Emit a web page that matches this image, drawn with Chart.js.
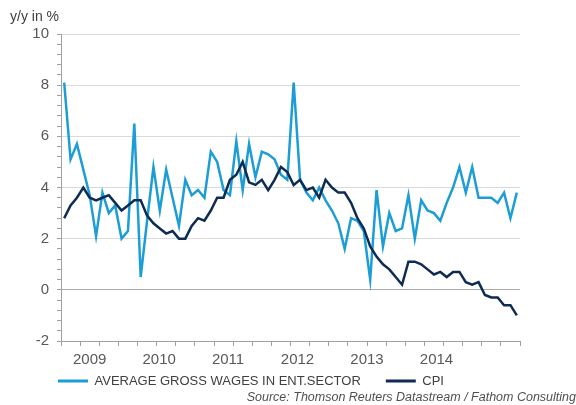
<!DOCTYPE html>
<html>
<head>
<meta charset="utf-8">
<script src="https://cdn.jsdelivr.net/npm/chart.js@4.4.1/dist/chart.umd.min.js"></script>
<style>
  html, body { margin:0; padding:0; background:#fff; overflow:hidden; }
</style>
</head>
<body>
<canvas id="c" width="576" height="405"></canvas>
<script>
/* ── data: y/y % change, monthly Jan 2009 – Dec 2014 ── */
const years  = ['2009','2010','2011','2012','2013','2014'];
const monthNames = ['Jan','Feb','Mar','Apr','May','Jun','Jul','Aug','Sep','Oct','Nov','Dec'];
const months = years.flatMap(y => monthNames.map(m => m + ' ' + y));

const wages = [
  8.1, 5.1, 5.7, 4.7, 3.7, 2.1, 3.8, 3.0, 3.3, 2.0, 2.3, 6.5,
  0.5, 2.7, 4.8, 3.1, 4.7, 3.6, 2.5, 4.3, 3.7, 3.9, 3.6, 5.4,
  5.0, 3.9, 3.7, 5.8, 3.9, 5.7, 4.4, 5.4, 5.3, 5.1, 4.5, 4.3,
  8.1, 4.3, 3.8, 3.5, 4.0, 3.5, 3.1, 2.6, 1.6, 2.8, 2.7, 2.3,
  0.4, 3.9, 1.7, 3.0, 2.3, 2.4, 3.7, 2.0, 3.5, 3.1, 3.0, 2.7,
  3.4, 4.0, 4.8, 3.8, 4.8, 3.6, 3.6, 3.6, 3.4, 3.8, 2.8, 3.8
];
const cpi = [
  2.8, 3.3, 3.6, 4.0, 3.6, 3.5, 3.6, 3.7, 3.4, 3.1, 3.3, 3.5,
  3.5, 2.9, 2.6, 2.4, 2.2, 2.3, 2.0, 2.0, 2.5, 2.8, 2.7, 3.1,
  3.6, 3.6, 4.3, 4.5, 5.0, 4.2, 4.1, 4.3, 3.9, 4.3, 4.8, 4.6,
  4.1, 4.3, 3.9, 4.0, 3.6, 4.3, 4.0, 3.8, 3.8, 3.4, 2.8, 2.4,
  1.7, 1.3, 1.0, 0.8, 0.5, 0.2, 1.1, 1.1, 1.0, 0.8, 0.6, 0.7,
  0.5, 0.7, 0.7, 0.3, 0.2, 0.3, -0.2, -0.3, -0.3, -0.6, -0.6, -1.0
];

// where the year labels sit along the month axis (as in the original)
const yearLabelAt = [4.0, 14.9, 25.7, 36.6, 47.5, 58.4];
const yMin = -2, yMax = 10, yMinorStep = 0.4, yMajorStep = 2;

/* ── styling ── */
const WAGE_C = '#1c9dd6';
const CPI_C  = '#0e2b52';
const GRID   = '#dadada';
const ZERO   = '#a8a8a8';
const AXIS   = '#a0a0a0';
const TXT    = '#595959';

Chart.defaults.font.family = "'Liberation Sans', Arial, sans-serif";

// legend sits left of centre in the original, with wide gaps between items
const nudgeLegend = {
  id: 'nudgeLegend',
  afterLayout(chart){
    const lg = chart.legend;
    if(!lg) return;
    const pad = lg.options.labels.padding;
    const w = lg.right - lg.left;
    lg.left  = chart.chartArea.left - 3 - pad;
    lg.right = lg.left + w;
    lg.top   = lg.top + 0.5 - pad;
  }
};

new Chart(document.getElementById('c'), {
  type: 'line',
  data: {
    labels: months,
    datasets: [
      { label: 'AVERAGE GROSS WAGES IN ENT.SECTOR', data: wages,
        borderColor: WAGE_C, backgroundColor: WAGE_C, borderWidth: 2.5,
        pointRadius: 0, tension: 0, order: 1, xAxisID: 'x', yAxisID: 'y' },
      { label: 'CPI', data: cpi,
        borderColor: CPI_C, backgroundColor: CPI_C, borderWidth: 2.5,
        pointRadius: 0, tension: 0, order: 0, xAxisID: 'x', yAxisID: 'y' }
    ]
  },
  options: {
    responsive: false, animation: false, devicePixelRatio: 1,
    layout: { padding: { left: 10, right: 0, top: 0, bottom: 0 } },
    scales: {
      x: {
        type: 'category', offset: true,
        grid: {
          offset: true, drawOnChartArea: false, drawTicks: true, tickLength: 5,
          tickColor: c => (c.index === undefined || c.index % 3 === 0) ? AXIS : 'rgba(0,0,0,0)'
        },
        border: { display: true, color: AXIS },
        ticks: { display: false }
      },
      xl: {
        type: 'linear', position: 'bottom', min: -0.5, max: months.length - 0.5,
        grid: { display: false, drawTicks: false },
        border: { display: false },
        afterBuildTicks: s => { s.ticks = yearLabelAt.map(v => ({ value: v })); },
        ticks: { autoSkip: false, maxRotation: 0, padding: 5, color: TXT, font: { size: 15 },
                 callback: (v, i) => years[i] }
      },
      y: {
        min: yMin, max: yMax,
        afterBuildTicks: s => {
          const t = [];
          for(let v = yMin; v <= yMax + 1e-9; v += yMinorStep) t.push({ value: Math.round(v * 10) / 10 });
          s.ticks = t;
        },
        afterFit: s => { s.width = 51; },
        grid: {
          color: c => {
            const v = c.tick ? c.tick.value : NaN;
            if(v === 0) return ZERO;
            return Math.abs(v % yMajorStep) < 1e-9 ? GRID : 'rgba(0,0,0,0)';
          },
          tickColor: AXIS, tickLength: 4, drawTicks: true
        },
        border: { display: true, color: AXIS },
        ticks: { padding: 8, color: TXT, font: { size: 15 }, autoSkip: false,
                 callback: v => Math.abs(v % yMajorStep) < 1e-9 ? String(v) : '' }
      },
      yR: {
        position: 'right', display: true,
        afterFit: s => { s.width = 56; },
        grid: { display: false, drawTicks: false }, border: { display: false },
        ticks: { display: false }
      }
    },
    plugins: {
      tooltip: { enabled: false },
      title: {
        display: true, text: 'y/y in %', align: 'start', position: 'top',
        color: '#404040', font: { size: 14, weight: 'normal' },
        padding: { top: 9, bottom: 8.2 }
      },
      subtitle: {
        display: true, text: 'Source: Thomson Reuters Datastream / Fathom Consulting',
        position: 'bottom', align: 'end',
        color: '#505050', font: { size: 12.5, style: 'italic' },
        padding: { top: 0, bottom: 0 }
      },
      legend: {
        position: 'bottom', align: 'start', maxHeight: 16,
        labels: {
          boxWidth: 30, boxHeight: 3, padding: 25, color: '#404040', font: { size: 13 },
          sort: (a, b) => a.datasetIndex - b.datasetIndex,
          generateLabels: chart => Chart.defaults.plugins.legend.labels.generateLabels(chart)
            .map(l => Object.assign(l, { fillStyle: l.strokeStyle, lineWidth: 0 }))
        }
      }
    }
  },
  plugins: [nudgeLegend]
});
</script>
</body>
</html>
